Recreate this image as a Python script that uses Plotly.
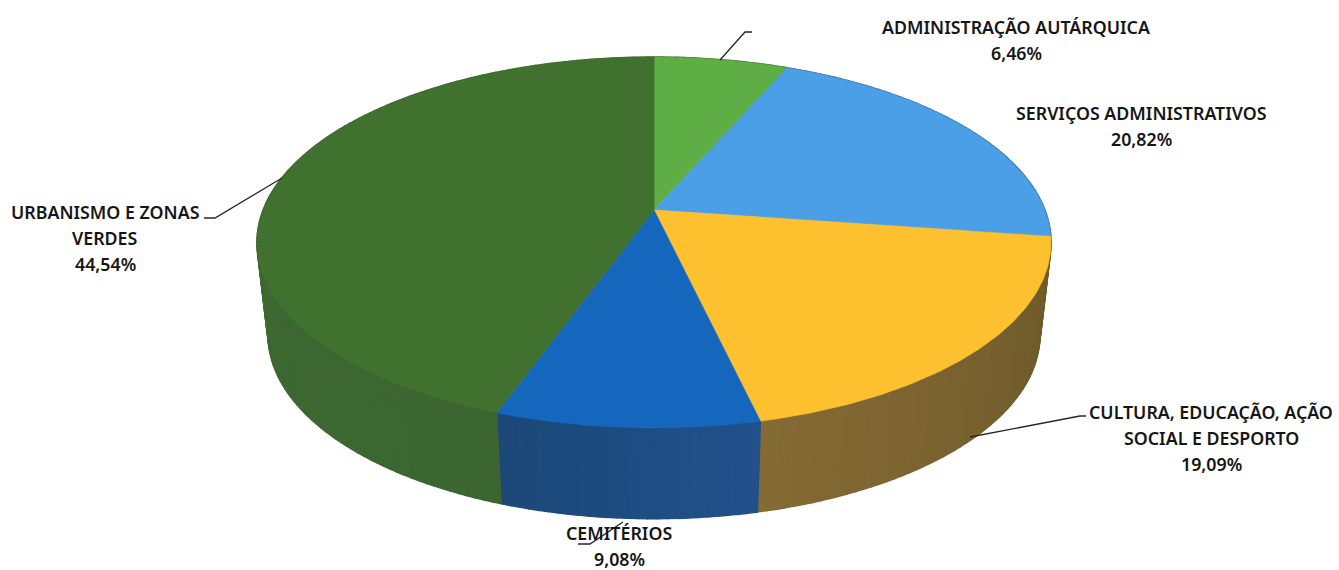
import numpy as np
import plotly.graph_objects as go

# Data
categories = ["ADMINISTRAÇÃO AUTÁRQUICA", "SERVIÇOS ADMINISTRATIVOS",
              "CULTURA, EDUCAÇÃO, AÇÃO SOCIAL E DESPORTO", "CEMITÉRIOS",
              "URBANISMO E ZONAS VERDES"]
values = [6.46, 20.82, 19.09, 9.08, 44.54]
label_lines = [["ADMINISTRAÇÃO AUTÁRQUICA"], ["SERVIÇOS ADMINISTRATIVOS"],
               ["CULTURA, EDUCAÇÃO, AÇÃO", "SOCIAL E DESPORTO"], ["CEMITÉRIOS"],
               ["URBANISMO E ZONAS", "VERDES"]]
top_colors = ["#5fad45", "#4b9fe6", "#fdc02e", "#1566bd", "#40712f"]
side_start = [(60, 106, 44), (45, 96, 144), (108, 88, 42), (33, 80, 138), (60, 102, 48)]
side_end = [(60, 106, 44), (45, 96, 144), (132, 106, 52), (28, 72, 120), (64, 108, 50)]

# Perspective model of the tilted disc (pixel space)
CX = 654
K = 0.175
TOP = dict(cy=210, a=391, b=179.8)
BOTTOM = dict(cy=303, a=380, b=178)


def project(theta, face):
    w = 1 + K * np.cos(theta)
    return CX + face["a"] * np.sin(theta) / w, face["cy"] - face["b"] * np.cos(theta) / w


fig = go.Figure()


def poly(x, y, color, lw=0.6):
    fig.add_trace(go.Scatter(x=x, y=y, mode="lines", fill="toself", fillcolor=color,
                             line=dict(color=color, width=lw), hoverinfo="skip", showlegend=False))


edges = np.cumsum([0] + values) / sum(values) * 2 * np.pi
arcs = [np.linspace(edges[i], edges[i + 1], max(int(values[i] * 3), 8)) for i in range(len(values))]

# Side wall: one quad per arc step, shaded along the slice
for arc, c0, c1 in zip(arcs, side_start, side_end):
    tx, ty = project(arc, TOP)
    bx, by = project(arc, BOTTOM)
    n = len(arc) - 1
    for j in range(n):
        f = j / max(n - 1, 1)
        col = "rgb(%d,%d,%d)" % tuple(round(p + (q - p) * f) for p, q in zip(c0, c1))
        poly([tx[j], tx[j + 1], bx[j + 1], bx[j], tx[j]],
             [ty[j], ty[j + 1], by[j + 1], by[j], ty[j]], col, lw=1.4)

for i, col in enumerate(top_colors):
    arc = np.linspace(edges[i], edges[i + 1], max(int(values[i] * 6), 8))
    tx, ty = project(arc, TOP)
    poly(np.r_[CX, tx, CX], np.r_[TOP["cy"], ty, TOP["cy"]], col)

# Leader lines
leaders_x = [[720, 745, 752], [282, 215, 204], [970, 1080, 1086], [623, 590, 578]]
leaders_y = [[60, 32, 32], [178, 218, 218], [437, 416, 416], [522, 544, 544]]
for lx, ly in zip(leaders_x, leaders_y):
    fig.add_trace(go.Scatter(x=lx, y=ly, mode="lines", line=dict(color="#262626", width=1.3),
                             hoverinfo="skip", showlegend=False))

# Labels
label_cx = [1016, 1141, 1211, 619, 105]
label_y0 = [27, 113, 412, 533, 212]
line_gap = 26
FONT = dict(family="Noto Sans", size=17.8, color="#161616", weight=600)
for lines, v, cx, y0 in zip(label_lines, values, label_cx, label_y0):
    for i, t in enumerate(lines + [f"{v:.2f}%".replace(".", ",")]):
        fig.add_annotation(x=cx, y=y0 + i * line_gap, text=t, showarrow=False, font=FONT,
                           xanchor="center", yanchor="middle")

fig.update_layout(width=1339, height=570, margin=dict(l=0, r=0, t=0, b=0),
                  paper_bgcolor="white", plot_bgcolor="white",
                  xaxis=dict(range=[0, 1339], visible=False, fixedrange=True),
                  yaxis=dict(range=[570, 0], visible=False, fixedrange=True))
fig.write_html("out.html", config={"displayModeBar": False},
               post_script="document.body.style.margin='0';")
